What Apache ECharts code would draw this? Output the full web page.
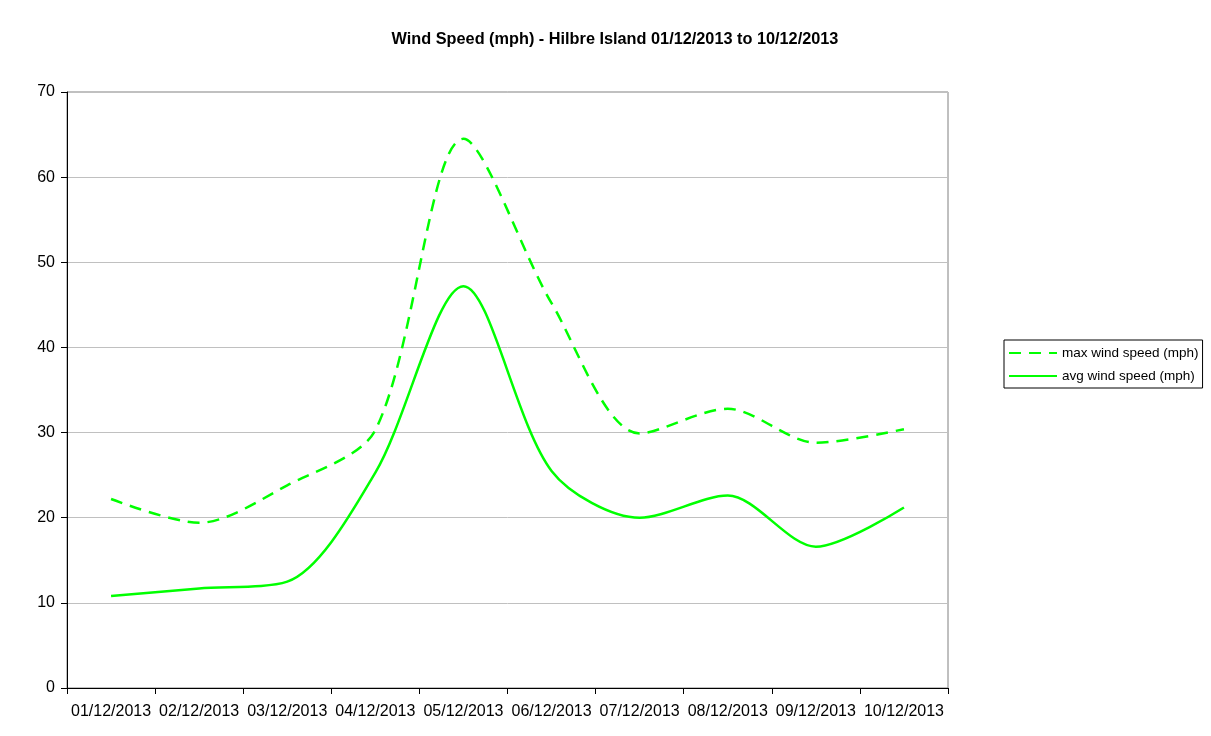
<!DOCTYPE html>
<html>
<head>
<meta charset="utf-8">
<script src="https://cdn.jsdelivr.net/npm/echarts@6/dist/echarts.min.js"></script>
<style>
html,body{margin:0;padding:0;background:#fff;}
#chart{width:1211px;height:736px;}
</style>
</head>
<body>
<div id="chart"></div>
<script>
var categories = ['01/12/2013','02/12/2013','03/12/2013','04/12/2013','05/12/2013','06/12/2013','07/12/2013','08/12/2013','09/12/2013','10/12/2013'];
var maxWind = [22.2, 19.4, 23.8, 30.3, 64.5, 45.2, 29.9, 32.8, 28.8, 30.4];
var avgWind = [10.8, 11.7, 12.5, 25.3, 47.2, 25.5, 20.0, 22.6, 16.6, 21.2];
var yTicks = [0, 10, 20, 30, 40, 50, 60, 70];

var chart = echarts.init(document.getElementById('chart'));
var font = 'Liberation Sans, Arial, sans-serif';
chart.setOption({
  backgroundColor: '#fff',
  animation: false,
  title: {
    text: 'Wind Speed (mph) - Hilbre Island 01/12/2013 to 10/12/2013',
    left: 610, top: 27, textAlign: 'center',
    textStyle: {fontFamily: font, fontSize: 16.3, fontWeight: 'bold', color: '#000'}
  },
  legend: {
    orient: 'vertical',
    left: 1004, top: 340,
    padding: [6, 4, 5, 4],
    itemGap: 9,
    itemWidth: 48, itemHeight: 14,
    borderColor: '#000', borderWidth: 1, borderRadius: 0,
    itemStyle: {opacity: 0},
    textStyle: {fontFamily: font, fontSize: 13.5, color: '#000'},
    data: ['max wind speed (mph)', 'avg wind speed (mph)']
  },
  grid: {
    left: 67, right: 263, top: 92, bottom: 48,
    show: true, borderColor: '#808080', borderWidth: 1, containLabel: false
  },
  xAxis: {
    type: 'category',
    data: categories,
    boundaryGap: true,
    axisLine: {lineStyle: {color: '#000', width: 1}},
    axisTick: {show: true, inside: false, length: 6, lineStyle: {color: '#000'}},
    axisLabel: {fontFamily: font, fontSize: 16, color: '#000', margin: 16, interval: 0},
    splitLine: {show: false}
  },
  yAxis: {
    type: 'value',
    min: yTicks[0], max: yTicks[yTicks.length - 1], interval: 10,
    axisLine: {show: true, lineStyle: {color: '#000', width: 1}},
    axisTick: {show: true, inside: false, length: 6, lineStyle: {color: '#000'}},
    axisLabel: {fontFamily: font, fontSize: 16, color: '#000', margin: 12},
    splitLine: {show: true, lineStyle: {color: '#c0c0c0', width: 1}}
  },
  series: [
    {
      name: 'max wind speed (mph)', type: 'line', data: maxWind,
      smooth: 0.3, symbol: 'none', showSymbol: false,
      itemStyle: {color: '#00ff00'},
      lineStyle: {color: '#00ff00', width: 2.5, type: [12, 8]}
    },
    {
      name: 'avg wind speed (mph)', type: 'line', data: avgWind,
      smooth: 0.3, symbol: 'none', showSymbol: false,
      itemStyle: {color: '#00ff00'},
      lineStyle: {color: '#00ff00', width: 2.5, type: 'solid'}
    }
  ]
});
</script>
</body>
</html>
